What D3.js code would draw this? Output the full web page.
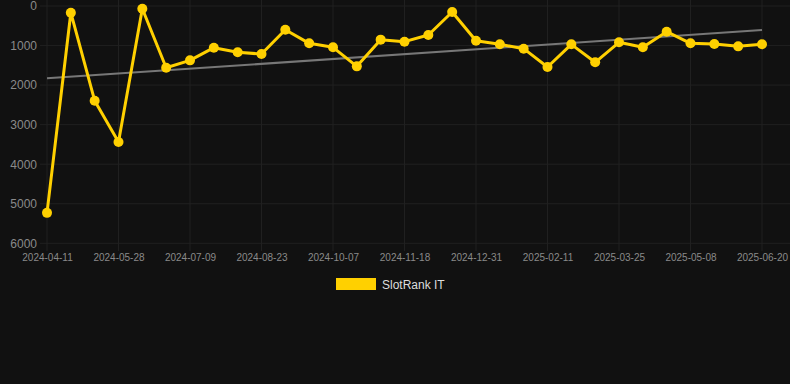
<!DOCTYPE html>
<html>
<head>
<meta charset="utf-8">
<script src="https://cdn.jsdelivr.net/npm/d3@7"></script>
<style>
  html, body { margin: 0; padding: 0; background: #111111; }
  svg { display: block; font-family: "Liberation Sans", Arial, sans-serif; }
</style>
</head>
<body>
<div id="chart"></div>
<script>
// dates between the labelled ticks are estimated, only every third is shown
var dates = ["2024-04-11","2024-04-27","2024-05-12","2024-05-28","2024-06-11","2024-06-25",
  "2024-07-09","2024-07-24","2024-08-08","2024-08-23","2024-09-07","2024-09-22",
  "2024-10-07","2024-10-21","2024-11-04","2024-11-18","2024-12-02","2024-12-16",
  "2024-12-31","2025-01-14","2025-01-28","2025-02-11","2025-02-25","2025-03-11",
  "2025-03-25","2025-04-09","2025-04-23","2025-05-08","2025-05-22","2025-06-05","2025-06-20"];

var ranks = [5230, 170, 2395, 3440, 70, 1560, 1374, 1054, 1171, 1214,
  599, 944, 1045, 1526, 851, 902, 733, 152, 877, 969,
  1079, 1542, 969, 1424, 918, 1045, 649, 944, 961, 1020, 969];

var yTicks = [0, 1000, 2000, 3000, 4000, 5000, 6000];
var seriesName = "SlotRank IT";

var width = 790, height = 384;
var svg = d3.select("#chart").append("svg")
  .attr("width", width)
  .attr("height", height);

var x = d3.scalePoint()
  .domain(dates)
  .range([47, 762]);

var y = d3.scaleLinear()
  .domain([0, 6000])
  .range([6, 243.3]);

// grid
svg.append("g")
  .selectAll("line")
  .data(yTicks)
  .enter().append("line")
  .attr("x1", 40).attr("x2", 790)
  .attr("y1", function(d) { return y(d); })
  .attr("y2", function(d) { return y(d); })
  .attr("stroke", "#202020")
  .attr("stroke-width", 1);

var shown = dates.filter(function(d, i) { return i % 3 == 0; });

svg.append("g")
  .selectAll("line")
  .data(shown)
  .enter().append("line")
  .attr("x1", function(d) { return x(d); })
  .attr("x2", function(d) { return x(d); })
  .attr("y1", 0).attr("y2", 251)
  .attr("stroke", "#202020")
  .attr("stroke-width", 1);

// axes labels
var yAxis = d3.axisLeft(y).tickValues(yTicks).tickFormat(d3.format("d"))
  .tickSize(0).tickPadding(0);
svg.append("g")
  .attr("transform", "translate(37,0)")
  .call(yAxis)
  .call(function(g) { g.select(".domain").remove(); })
  .selectAll("text")
  .attr("fill", "#8a8a8a")
  .style("font-size", "12px");

var xAxis = d3.axisBottom(x).tickValues(shown).tickSize(0).tickPadding(0);
svg.append("g")
  .attr("transform", "translate(0,254)")
  .call(xAxis)
  .call(function(g) { g.select(".domain").remove(); })
  .selectAll("text")
  .attr("fill", "#8a8a8a")
  .style("font-size", "10px");

// trend line (least squares over the series)
var n = ranks.length;
var mx = d3.mean(ranks, function(d, i) { return i; });
var my = d3.mean(ranks);
var sxy = 0, sxx = 0;
ranks.forEach(function(v, i) {
  sxy += (i - mx) * (v - my);
  sxx += (i - mx) * (i - mx);
});
var slope = sxy / sxx;
var icpt = my - slope * mx;

svg.append("line")
  .attr("x1", x(dates[0]))
  .attr("x2", x(dates[n - 1]))
  .attr("y1", y(icpt))
  .attr("y2", y(icpt + slope * (n - 1)))
  .attr("stroke", "#777777")
  .attr("stroke-width", 2);

// series
var line = d3.line()
  .x(function(d, i) { return x(dates[i]); })
  .y(function(d) { return y(d); });

svg.append("path")
  .datum(ranks)
  .attr("d", line)
  .attr("fill", "none")
  .attr("stroke", "#FFD000")
  .attr("stroke-width", 3)
  .attr("stroke-linejoin", "round");

svg.append("g")
  .selectAll("circle")
  .data(ranks)
  .enter().append("circle")
  .attr("cx", function(d, i) { return x(dates[i]); })
  .attr("cy", function(d) { return y(d); })
  .attr("r", 5)
  .attr("fill", "#FFD000");

// legend
svg.append("rect")
  .attr("x", 336).attr("y", 278)
  .attr("width", 40).attr("height", 12)
  .attr("fill", "#FFD000");

svg.append("text")
  .attr("x", 382).attr("y", 289)
  .attr("fill", "#dddddd")
  .style("font-size", "12px")
  .text(seriesName);
</script>
</body>
</html>
